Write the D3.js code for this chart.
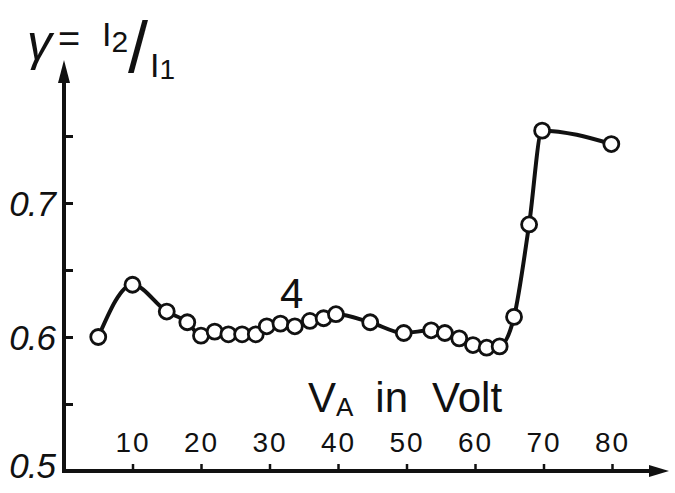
<!DOCTYPE html>
<html>
<head>
<meta charset="utf-8">
<script src="https://cdn.jsdelivr.net/npm/d3@7"></script>
<style>
	body { margin: 0; background: #fff; }
	svg text { font-family: "Liberation Sans", "DejaVu Sans", sans-serif; fill: #111; }
</style>
</head>
<body>
<svg id="chart"></svg>
<script>
// values
let volts	= [5, 10, 15, 18, 20, 22, 24, 26, 28, 29.6, 31.6, 33.7, 35.9, 37.9, 39.7, 44.7, 49.6, 53.6, 55.6, 57.7, 59.7, 61.7, 63.6, 65.7, 67.9, 69.8, 79.9];
let gamma	= [0.600, 0.639, 0.619, 0.611, 0.601, 0.604, 0.602, 0.602, 0.602, 0.608, 0.610, 0.608, 0.612, 0.614, 0.617, 0.611, 0.603, 0.605, 0.603, 0.599, 0.594, 0.592, 0.593, 0.615, 0.684, 0.754, 0.744];
let xTicks	= [10, 20, 30, 40, 50, 60, 70, 80];
let yTicks	= [0.55, 0.6, 0.65, 0.7, 0.75];
let yLabels	= [0.5, 0.6, 0.7];

let canvasWidth		= 675;
let canvasHeight	= 493;

let svg = d3.select('#chart')
	.attr('width', canvasWidth)
	.attr('height', canvasHeight);

let x = d3.scaleLinear().domain([0, 80]).range([64, 612]);
let y = d3.scaleLinear().domain([0.5, 0.75]).range([471, 136]);

let ink = '#111';

// axes
let xAxis = svg.append('g')
	.attr('transform', 'translate(0,' + y(0.5) + ')')
	.call(d3.axisTop(x).tickValues(xTicks).tickSize(7).tickPadding(12).tickFormat(d3.format('d')));
xAxis.select('.domain').remove();
xAxis.selectAll('line').attr('stroke', ink).attr('stroke-width', 2.5);
xAxis.selectAll('text')
	.style('font-size', '28px')
	.style('letter-spacing', '2px')
	.attr('fill', ink);

let yAxis = svg.append('g')
	.attr('transform', 'translate(' + x(0) + ',0)')
	.call(d3.axisLeft(y).tickValues(yTicks).tickSize(-9).tickFormat(''));
yAxis.select('.domain').remove();
yAxis.selectAll('line').attr('stroke', ink).attr('stroke-width', 3);

svg.append('g').selectAll('text').data(yLabels).enter()
	.append('text')
		.attr('x', x(0) - 9)
		.attr('y', (o) => (y(o) - (o === 0.5 ? 6 : 0)))
		.attr('dy', '0.36em')
		.attr('text-anchor', 'end')
		.style('font-size', '35px')
		.style('font-style', 'italic')
		.style('letter-spacing', '-1px')
		.text((o) => (d3.format('.1f')(o)));

// axis lines with arrows
svg.append('path')
	.attr('d', 'M' + x(0) + ',' + y(0.5) + 'V78')
	.attr('stroke', ink).attr('stroke-width', 4).attr('fill', 'none');
svg.append('path')
	.attr('d', 'M' + x(0) + ',60L' + (x(0) - 6) + ',83L' + (x(0) + 6) + ',83Z')
	.attr('fill', ink);
svg.append('path')
	.attr('d', 'M' + (x(0) - 2) + ',' + y(0.5) + 'H652')
	.attr('stroke', ink).attr('stroke-width', 4).attr('fill', 'none');
svg.append('path')
	.attr('d', 'M669,' + y(0.5) + 'L649,' + (y(0.5) - 6) + 'L649,' + (y(0.5) + 6) + 'Z')
	.attr('fill', ink);

// curve
let points	= volts.map((v, i) => ({ v: v, g: gamma[i] }));
let lineFunc	= d3.line().x((o) => (x(o.v))).y((o) => (y(o.g))).curve(d3.curveMonotoneX);
svg.append('path')
	.attr('d', lineFunc(points))
	.attr('fill', 'none')
	.attr('stroke', ink)
	.attr('stroke-width', 4);

svg.append('g').selectAll('circle').data(points).enter()
	.append('circle')
		.attr('cx', (o) => (x(o.v)))
		.attr('cy', (o) => (y(o.g)))
		.attr('r', 7.5)
		.attr('fill', '#fff')
		.attr('stroke', ink)
		.attr('stroke-width', 2.8);

// labels
svg.append('text')
	.attr('x', 27).attr('y', 60)
	.style('font-size', '50px')
	.style('font-style', 'italic')
	.text('γ');
svg.append('text')
	.attr('x', 58).attr('y', 52)
	.style('font-size', '38px')
	.text('=');
let title = svg.append('text')
	.attr('x', 102)
	.attr('y', 46)
	.style('font-size', '34px');
title.append('tspan').text('I');
title.append('tspan').attr('dy', 6).style('font-size', '30px').text('2');
svg.append('text')
	.attr('x', 128).attr('y', 72)
	.style('font-size', '72px')
	.text('/');
let title2 = svg.append('text')
	.attr('x', 150)
	.attr('y', 77)
	.style('font-size', '34px');
title2.append('tspan').text('I');
title2.append('tspan').attr('dy', 2).style('font-size', '28px').text('1');

svg.append('text')
	.attr('x', 280).attr('y', 308)
	.style('font-size', '42px')
	.text('4');

let xTitle = svg.append('text')
	.attr('x', 308)
	.attr('y', 412)
	.style('font-size', '42px');
xTitle.append('tspan').text('V');
xTitle.append('tspan').attr('dy', 4).style('font-size', '26px').text('A');
xTitle.append('tspan').attr('dy', -4).attr('dx', 22).text('in');
xTitle.append('tspan').attr('dx', 24).text('Volt');
</script>
</body>
</html>
